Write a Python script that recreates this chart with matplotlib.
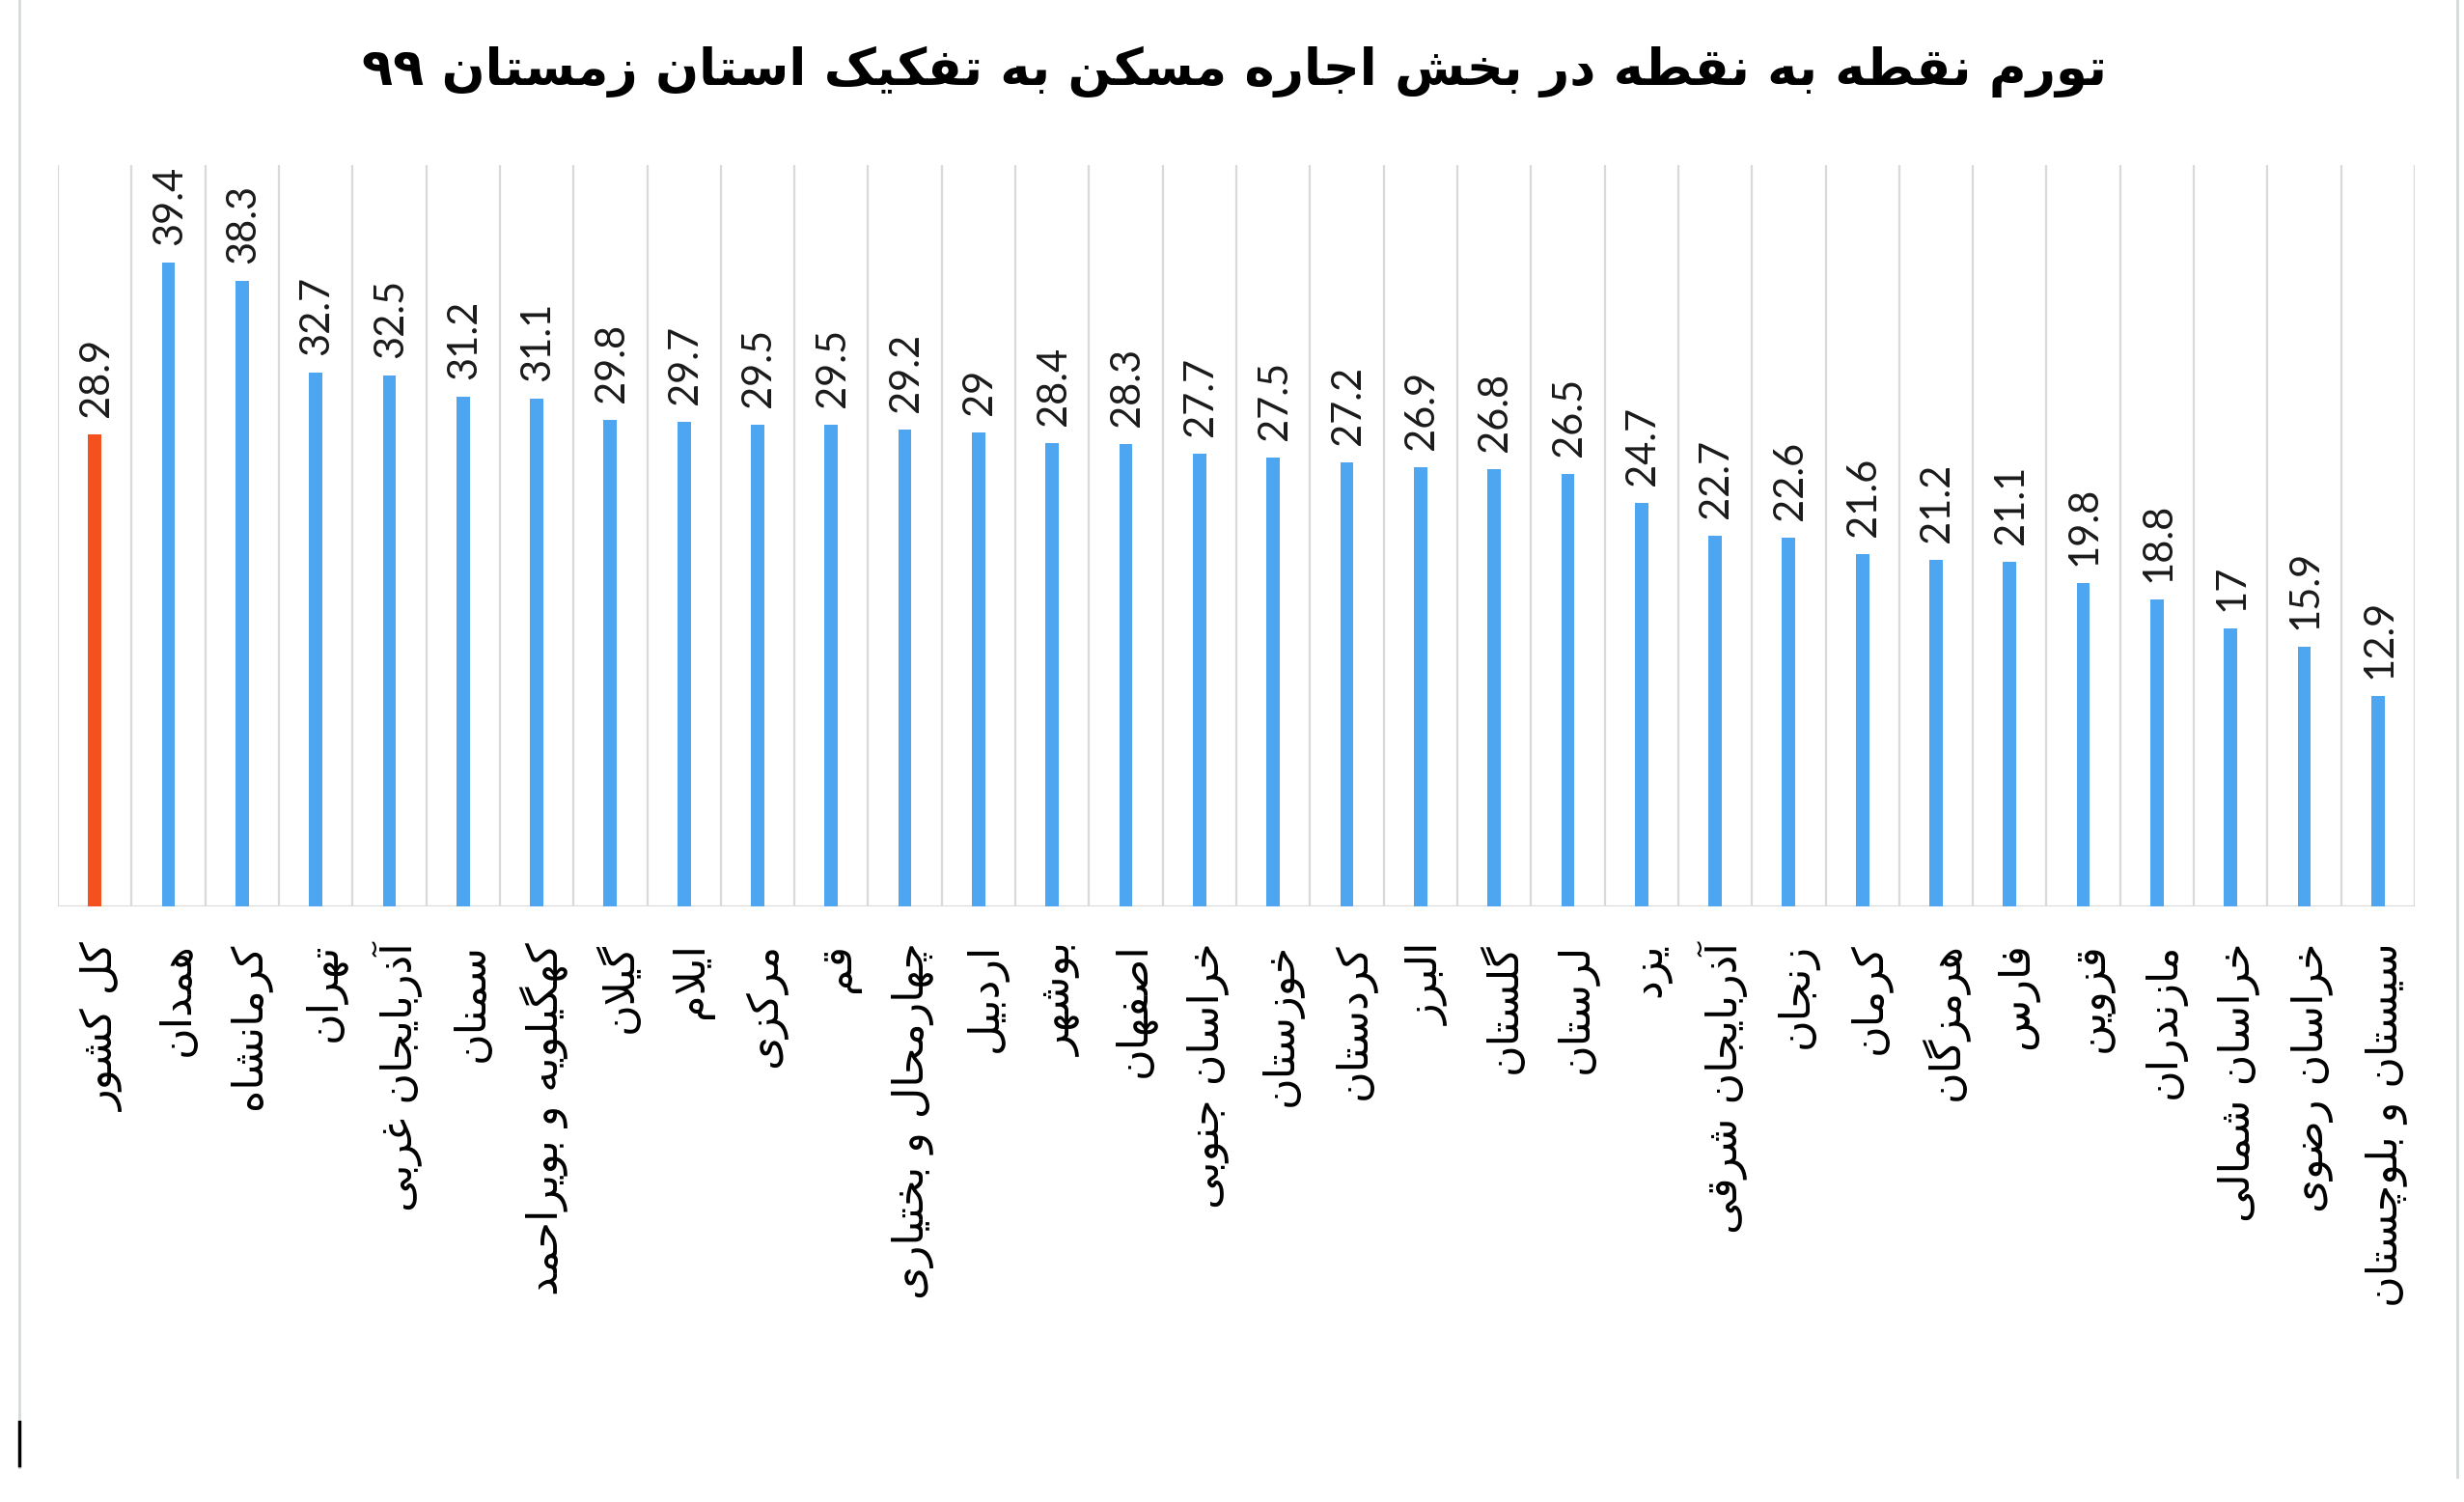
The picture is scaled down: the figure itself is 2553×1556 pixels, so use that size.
import numpy as np
import matplotlib
matplotlib.use('Agg')
from matplotlib import pyplot as plt
from matplotlib.lines import Line2D
from matplotlib.transforms import ScaledTranslation

# data
title = 'تورم نقطه به نقطه در بخش اجاره مسکن به تفکیک استان زمستان ۹۹'
provinces = ['کل کشور', 'همدان', 'کرمانشاه', 'تهران', 'آذربایجان غربی',
             'سمنان', 'کهگیلویه و بویراحمد', 'گیلان', 'ایلام', 'مرکزی',
             'قم', 'چهارمحال و بختیاری', 'اردبیل', 'بوشهر', 'اصفهان',
             'خراسان جنوبی', 'خوزستان', 'کردستان', 'البرز', 'گلستان',
             'لرستان', 'یزد', 'آذربایجان شرقی', 'زنجان', 'کرمان',
             'هرمزگان', 'فارس', 'قزوین', 'مازندران', 'خراسان شمالی',
             'خراسان رضوی', 'سیستان و بلوچستان']
values = [28.9, 39.4, 38.3, 32.7, 32.5, 31.2, 31.1, 29.8, 29.7, 29.5,
          29.5, 29.2, 29, 28.4, 28.3, 27.7, 27.5, 27.2, 26.9, 26.8,
          26.5, 24.7, 22.7, 22.6, 21.6, 21.2, 21.1, 19.8, 18.8, 17,
          15.9, 12.9]

# contextual forms (isolated, final, initial, medial) - matplotlib has no shaping
FORMS = {
    'ا': ('\uFE8D', '\uFE8E', None, None),
    'آ': ('\uFE81', '\uFE82', None, None),
    'ب': ('\uFE8F', '\uFE90', '\uFE91', '\uFE92'),
    'پ': ('\uFB56', '\uFB57', '\uFB58', '\uFB59'),
    'ت': ('\uFE95', '\uFE96', '\uFE97', '\uFE98'),
    'ج': ('\uFE9D', '\uFE9E', '\uFE9F', '\uFEA0'),
    'چ': ('\uFB7A', '\uFB7B', '\uFB7C', '\uFB7D'),
    'ح': ('\uFEA1', '\uFEA2', '\uFEA3', '\uFEA4'),
    'خ': ('\uFEA5', '\uFEA6', '\uFEA7', '\uFEA8'),
    'د': ('\uFEA9', '\uFEAA', None, None),
    'ذ': ('\uFEAB', '\uFEAC', None, None),
    'ر': ('\uFEAD', '\uFEAE', None, None),
    'ز': ('\uFEAF', '\uFEB0', None, None),
    'ژ': ('\uFB8A', '\uFB8B', None, None),
    'س': ('\uFEB1', '\uFEB2', '\uFEB3', '\uFEB4'),
    'ش': ('\uFEB5', '\uFEB6', '\uFEB7', '\uFEB8'),
    'ص': ('\uFEB9', '\uFEBA', '\uFEBB', '\uFEBC'),
    'ض': ('\uFEBD', '\uFEBE', '\uFEBF', '\uFEC0'),
    'ط': ('\uFEC1', '\uFEC2', '\uFEC3', '\uFEC4'),
    'ظ': ('\uFEC5', '\uFEC6', '\uFEC7', '\uFEC8'),
    'ع': ('\uFEC9', '\uFECA', '\uFECB', '\uFECC'),
    'غ': ('\uFECD', '\uFECE', '\uFECF', '\uFED0'),
    'ف': ('\uFED1', '\uFED2', '\uFED3', '\uFED4'),
    'ق': ('\uFED5', '\uFED6', '\uFED7', '\uFED8'),
    'ک': ('\uFB8E', '\uFB8F', '\uFB90', '\uFB91'),
    'گ': ('\uFB92', '\uFB93', '\uFB94', '\uFB95'),
    'ل': ('\uFEDD', '\uFEDE', '\uFEDF', '\uFEE0'),
    'م': ('\uFEE1', '\uFEE2', '\uFEE3', '\uFEE4'),
    'ن': ('\uFEE5', '\uFEE6', '\uFEE7', '\uFEE8'),
    'ه': ('\uFEE9', '\uFEEA', '\uFEEB', '\uFEEC'),
    'و': ('\uFEED', '\uFEEE', None, None),
    'ی': ('\uFBFC', '\uFBFD', '\uFBFE', '\uFBFF'),
}
LAM_ALEF = {'ا': ('\uFEFB', '\uFEFC'), 'آ': ('\uFEF5', '\uFEF6')}


def joins_next(c):
    return c in FORMS and FORMS[c][2] is not None


def shape_fa(s):
    res = []
    i = 0
    n = len(s)
    while i < n:
        c = s[i]
        if c not in FORMS:
            res.append(c)
            i += 1
            continue
        cp = i > 0 and joins_next(s[i-1])
        if c == 'ل' and i+1 < n and s[i+1] in LAM_ALEF:
            lig = LAM_ALEF[s[i+1]]
            res.append(lig[1] if cp else lig[0])
            i += 2
            continue
        nxt = s[i+1] if i+1 < n else ''
        cn = joins_next(c) and nxt in FORMS
        iso, fin, ini, med = FORMS[c]
        if cp and cn:
            res.append(med)
        elif cp:
            res.append(fin)
        elif cn:
            res.append(ini)
        else:
            res.append(iso)
        i += 1
    # right-to-left: reverse for matplotlib's left-to-right drawing
    return ''.join(reversed(res))


W, H = 2553, 1556
ytop = 45.4
fig = plt.figure(figsize=(W/100, H/100), dpi=100)
ax = fig.add_axes([60/W, 1-939/H, (2502-60)/W, (939-171)/H])

x = np.arange(len(values))
colors = ['#F4511E'] + ['#4EA6F0']*(len(values)-1)
ax.bar(x, values, width=0.18, color=colors, zorder=3)
ax.vlines(np.arange(len(values)+1)-0.5, 0, ytop, colors='#D9D9D9', lw=1.6,
          zorder=1)
ax.axhline(0, color='#D9D9D9', lw=2.2, zorder=2)
for xi, v in zip(x, values):
    ax.annotate('%g' % v, (xi, v), xytext=(1, 13), textcoords='offset points',
                rotation=90, ha='center', va='bottom', fontsize=30,
                family='Lato', color='#1a1a1a')

ax.set_xlim(-0.5, len(values)-0.5)
ax.set_ylim(0, ytop)
ax.set_xticks(x)
ax.set_xticklabels([shape_fa(p) for p in provinces], rotation=90,
                   fontsize=32, family='DejaVu Sans', va='top', ha='center')
ax.tick_params(axis='x', length=0, pad=27)
shift = ScaledTranslation(6/72, 0, fig.dpi_scale_trans)
for lab in ax.get_xticklabels():
    lab.set_transform(lab.get_transform() + shift)
ax.set_yticks([])
for s in ax.spines.values():
    s.set_visible(False)

fig.text(0.501, 0.952, shape_fa(title), ha='center', va='center',
         fontsize=38, fontweight='bold', family='DejaVu Sans')

# thin frame pieces at the picture edges
fig.add_artist(Line2D([20/W, 20/W], [1, 1-1520/H], color='#D3DBDE', lw=2))
fig.add_artist(Line2D([2546/W, 2546/W], [1, 1-1530/H], color='#D3DBDE', lw=2))
fig.add_artist(Line2D([20/W, 20/W], [1-1473/H, 1-1518/H], color='k', lw=2.5))

fig.savefig('out.png', dpi=100)
